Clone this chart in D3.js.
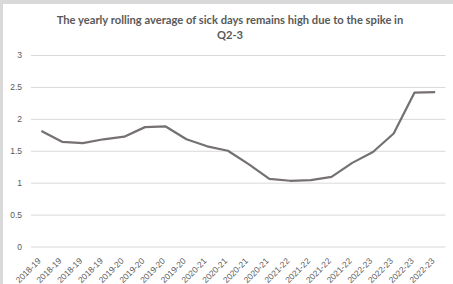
<!DOCTYPE html>
<html>
<head>
<meta charset="utf-8">
<script src="https://cdn.jsdelivr.net/npm/d3@7"></script>
<style>
body { margin: 0; background: #d9d9d9; }
svg { display: block; }
</style>
</head>
<body>
<script>
// quarterly labels, 4 per financial year
var quarters = ["2018-19", "2018-19", "2018-19", "2018-19",
	"2019-20", "2019-20", "2019-20", "2019-20",
	"2020-21", "2020-21", "2020-21", "2020-21",
	"2021-22", "2021-22", "2021-22", "2021-22",
	"2022-23", "2022-23", "2022-23", "2022-23"];
var sickDays = [1.81, 1.64, 1.62, 1.68, 1.72, 1.87, 1.88, 1.68, 1.57, 1.50,
	1.29, 1.06, 1.03, 1.04, 1.09, 1.31, 1.48, 1.77, 2.41, 2.42];
var yTicks = [0, 0.5, 1, 1.5, 2, 2.5, 3];
var title = ["The yearly rolling average of sick days remains high due to the spike in", "Q2-3"];

var W = 453, H = 284;
var margin = {top: 55, right: 8, bottom: 37.5, left: 31},
	width = 445.5 - margin.left,
	height = 246.5 - margin.top;

var idx = d3.range(quarters.length);

var x = d3.scaleBand()
	.domain(idx)
	.range([0, width]);
var y = d3.scaleLinear()
	.domain([0, 3])
	.range([height, 0]);

var root = d3.select("body").append("svg")
	.attr("width", W)
	.attr("height", H)
	.style("font-family", "Lato, 'Open Sans', sans-serif");

root.append("rect")
	.attr("x", 3).attr("y", 4)
	.attr("width", W - 3).attr("height", H - 4)
	.attr("fill", "#fff");

root.append("g").selectAll("text")
	.data(title)
	.enter().append("text")
	.attr("x", 230)
	.attr("y", function(d, i) { return 24 + i * 15; })
	.attr("text-anchor", "middle")
	.attr("font-size", "11.2px")
	.attr("font-weight", "bold")
	.attr("fill", "#595959")
	.text(function(d) { return d; });

var svg = root.append("g")
	.attr("transform", "translate(" + margin.left + "," + margin.top + ")");

// gridlines + y labels
var yAxis = svg.append("g")
	.call(d3.axisLeft(y).tickValues(yTicks).tickSize(-width).tickPadding(9).tickFormat(d3.format("")));
yAxis.select(".domain").remove();
yAxis.selectAll("line").attr("stroke", "#d9d9d9").attr("stroke-width", 1);
yAxis.selectAll("text").attr("fill", "#595959").attr("font-size", "8.5px");

var xAxis = svg.append("g")
	.attr("transform", "translate(0," + height + ")")
	.call(d3.axisBottom(x).tickSize(0).tickFormat(function(i) { return quarters[i]; }));
xAxis.select(".domain").remove();
xAxis.selectAll("text")
	.attr("fill", "#595959")
	.attr("font-size", "8.5px")
	.attr("text-anchor", "end")
	.attr("dy", null)
	.attr("y", 0)
	.attr("transform", "translate(0,15) rotate(-45)");

var line = d3.line()
	.x(function(d, i) { return x(i) + x.bandwidth() / 2; })
	.y(function(d) { return y(d); });

svg.append("path")
	.datum(sickDays)
	.attr("fill", "none")
	.attr("stroke", "#767171")
	.attr("stroke-width", 2.25)
	.attr("stroke-linejoin", "round")
	.attr("d", line);
</script>
</body>
</html>
